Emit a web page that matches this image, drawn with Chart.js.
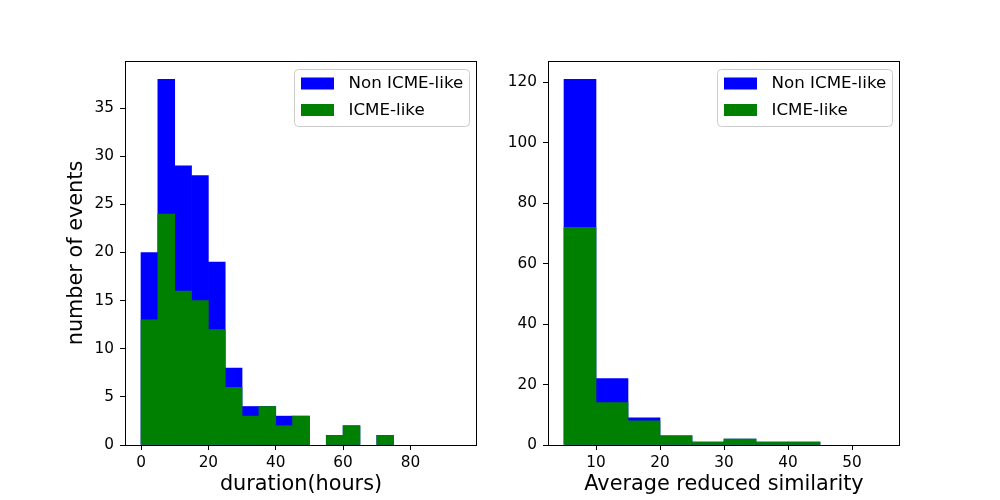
<!DOCTYPE html>
<html>
<head>
<meta charset="utf-8">
<script src="https://cdn.jsdelivr.net/npm/chart.js@4"></script>
<style>
  body { margin: 0; background: #fff; }
  #wrap { position: relative; width: 1000px; height: 500px; }
  .panel { position: absolute; top: 0; width: 500px; height: 500px; }
</style>
</head>
<body>
<div id="wrap">
  <div class="panel" style="left:0"><canvas id="left"></canvas></div>
  <div class="panel" style="left:500px"><canvas id="right"></canvas></div>
</div>
<script>
// left panel: duration histogram, bins of 5 hours starting at these edges
const durationEdges = [0, 5, 10, 15, 20, 25, 30, 35, 40, 45, 50, 55, 60, 65, 70, 75, 80, 85, 90];
const durationAll = [20, 38, 29, 28, 19, 8, 4, 4, 3, 3, 0, 1, 2, 0, 1, 0, 0, 0, 0];
const durationIcme = [13, 24, 16, 15, 12, 6, 3, 4, 2, 3, 0, 1, 2, 0, 1, 0, 0, 0, 0];
const durationXTicks = [0, 20, 40, 60, 80];
const durationYTicks = [0, 5, 10, 15, 20, 25, 30, 35];

// right panel: average reduced similarity, bins of 5
const similarityEdges = [5, 10, 15, 20, 25, 30, 35, 40, 45, 50];
const similarityAll = [121, 22, 9, 3, 1, 2, 1, 1, 0, 0];
const similarityIcme = [72, 14, 8, 3, 1, 2, 1, 1, 0, 0];
const similarityXTicks = [10, 20, 30, 40, 50];
const similarityYTicks = [0, 20, 40, 60, 80, 100, 120];

const labels = ["Non ICME-like", "ICME-like"];
const colors = ["#0000ff", "#008000"];
const FONT = "'DejaVu Sans', sans-serif";

// empty bins become null so no hairline gets drawn
function toPoints(edges, counts, width) {
    return edges.map((e, i) => ({ x: e + width / 2, y: counts[i] || null }));
}

// box around the axes plus a matplotlib-like legend in the upper right
const frameAndLegend = {
    id: "frameAndLegend",
    afterDraw(chart) {
        const { ctx, chartArea: a } = chart;
        ctx.save();
        ctx.strokeStyle = "#000";
        ctx.lineWidth = 1;
        ctx.strokeRect(Math.round(a.left) + 0.5, Math.round(a.top) + 0.5,
            Math.round(a.right - a.left) - 1, Math.round(a.bottom - a.top));

        const w = 175, h = 57;
        const x = Math.round(a.right - 8 - w) + 0.5;
        const y = Math.round(a.top + 8) + 0.5;
        ctx.beginPath();
        ctx.roundRect(x, y, w, h, 4);
        ctx.fillStyle = "rgba(255,255,255,0.8)";
        ctx.fill();
        ctx.strokeStyle = "#cccccc";
        ctx.stroke();

        ctx.font = "16.7px " + FONT;
        ctx.textBaseline = "middle";
        labels.forEach((lab, i) => {
            ctx.fillStyle = colors[i];
            ctx.fillRect(x + 6.5, y + 8 + i * 26.5, 33, 12);
            ctx.fillStyle = "#000";
            ctx.fillText(lab, x + 54, y + 14.5 + i * 26.5);
        });
        ctx.restore();
    },
};

function makeChart(id, opts) {
    return new Chart(document.getElementById(id), {
        type: "bar",
        data: {
            datasets: [
                {
                    label: labels[0],
                    data: toPoints(opts.edges, opts.all, opts.bin),
                    backgroundColor: colors[0],
                    order: 2,
                },
                {
                    label: labels[1],
                    data: toPoints(opts.edges, opts.icme, opts.bin),
                    backgroundColor: colors[1],
                    order: 1,
                },
            ],
        },
        options: {
            responsive: true,
            maintainAspectRatio: false,
            animation: false,
            grouped: false,
            barPercentage: 1,
            categoryPercentage: 1,
            layout: { padding: { top: 61, right: opts.padRight, left: opts.padLeft, bottom: 0 } },
            plugins: { legend: { display: false }, tooltip: { enabled: false } },
            scales: {
                x: {
                    type: "linear",
                    offset: false,
                    min: opts.xMin,
                    max: opts.xMax,
                    afterBuildTicks: s => { s.ticks = opts.xTicks.map(v => ({ value: v })); },
                    afterFit: s => { s.height = 55; },
                    grid: { display: true, offset: false, drawOnChartArea: false, drawTicks: true, tickLength: 5, color: "#000" },
                    border: { display: false },
                    ticks: { color: "#000", padding: 4, maxRotation: 0, font: { family: FONT, size: 15.3 } },
                    title: {
                        display: true,
                        text: opts.xTitle,
                        color: "#000",
                        padding: { top: 0, bottom: 3 },
                        font: { family: FONT, size: 20.8 },
                    },
                },
                y: {
                    min: 0,
                    max: opts.yMax,
                    afterBuildTicks: s => { s.ticks = opts.yTicks.map(v => ({ value: v })); },
                    afterFit: s => { s.width = opts.yWidth; },
                    grid: { display: true, drawOnChartArea: false, drawTicks: true, tickLength: 5, color: "#000" },
                    border: { display: false },
                    ticks: { color: "#000", padding: 6, font: { family: FONT, size: 15.3 } },
                    title: {
                        display: !!opts.yTitle,
                        text: opts.yTitle || "",
                        color: "#000",
                        padding: { top: 0, bottom: 0 },
                        font: { family: FONT, size: 20.8 },
                    },
                },
            },
        },
        plugins: [frameAndLegend],
    });
}

makeChart("left", {
    edges: durationEdges, all: durationAll, icme: durationIcme, bin: 5,
    xMin: -4.75, xMax: 99.75, yMax: 39.9,
    xTicks: durationXTicks, yTicks: durationYTicks,
    xTitle: "duration(hours)", yTitle: "number of events",
    padLeft: 64, yWidth: 61, padRight: 23,
});

makeChart("right", {
    edges: similarityEdges, all: similarityAll, icme: similarityIcme, bin: 5,
    xMin: 2.5, xMax: 57.5, yMax: 127.05,
    xTicks: similarityXTicks, yTicks: similarityYTicks,
    xTitle: "Average reduced similarity", yTitle: null,
    padLeft: 0, yWidth: 48, padRight: 100,
});
</script>
</body>
</html>
